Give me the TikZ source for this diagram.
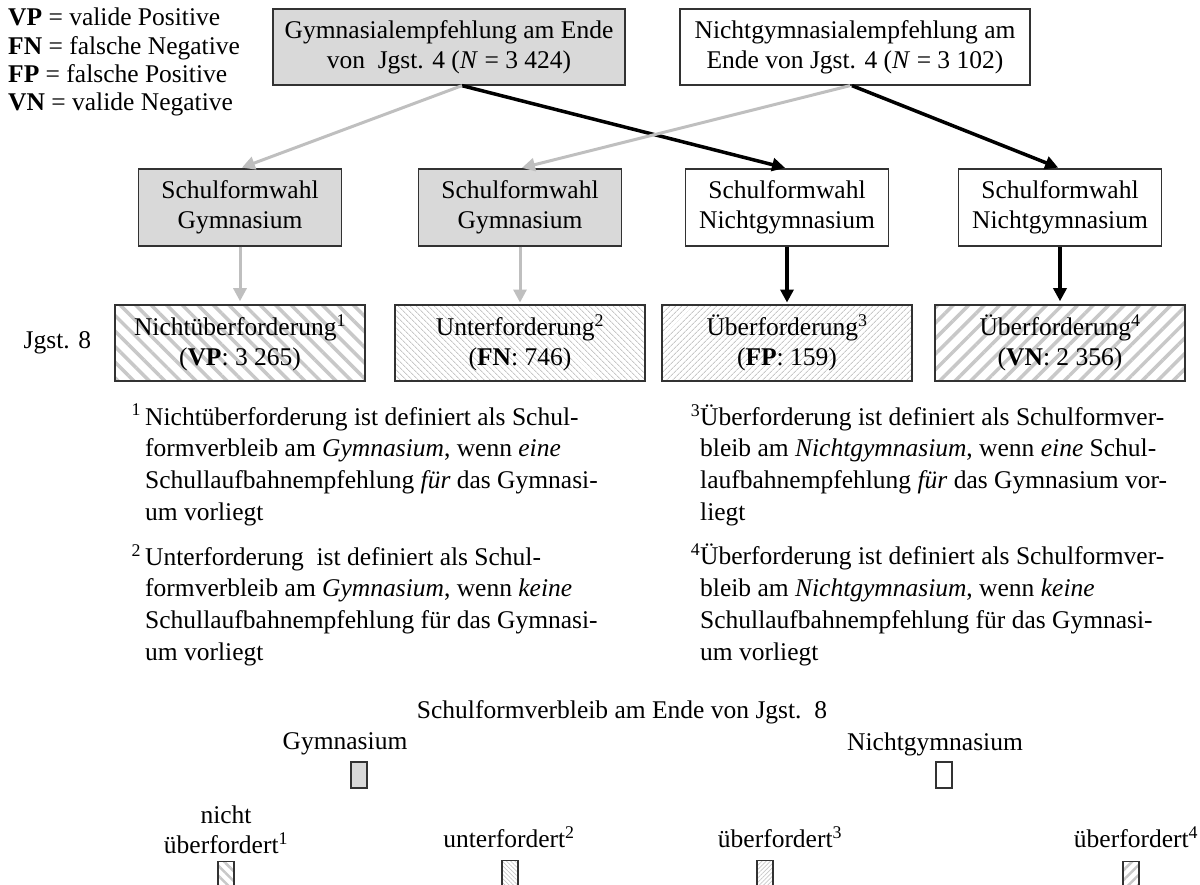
\documentclass[tikz,border=0pt]{standalone}
\usepackage{fontspec}
\setmainfont{Liberation Serif}
\usepackage{xcolor}
\usepackage{tikz}
\usetikzlibrary{positioning,arrows.meta,patterns.meta,calc}
\definecolor{boxgray}{RGB}{217,217,217}
\definecolor{arrowgray}{RGB}{191,191,191}
\definecolor{hatchgray}{RGB}{200,200,200}
\definecolor{framegray}{RGB}{50,50,50}
\tikzset{
  base box/.style={
    draw=framegray,
    line width=1.3pt,
    align=center,
    inner sep=0pt,
    font=\fontsize{25.5}{30}\selectfont
  },
  rec box/.style={base box, minimum height=76pt},
  choice box/.style={base box, minimum width=203pt, minimum height=77pt},
  result box/.style={base box, minimum width=250pt, minimum height=76pt},
  gym fill/.style={fill=boxgray},
  wide nw/.style={pattern={Lines[angle=-45,distance=11pt,line width=3.5pt]}, pattern color=hatchgray},
  fine nw/.style={pattern={Lines[angle=-45,distance=4pt,line width=0.9pt]}, pattern color=hatchgray},
  fine ne/.style={pattern={Lines[angle=45,distance=4pt,line width=0.9pt]}, pattern color=hatchgray},
  wide ne/.style={pattern={Lines[angle=45,distance=11pt,line width=3.5pt]}, pattern color=hatchgray},
  gray arrow/.style={
    draw=arrowgray,
    line width=3pt,
    -{Triangle[length=13pt,width=13pt]},
    shorten >=2pt
  },
  black arrow/.style={
    draw=black,
    line width=3.5pt,
    -{Triangle[length=13pt,width=13pt]},
    shorten >=2pt
  },
  plain text/.style={inner sep=0pt, font=\fontsize{25.5}{30}\selectfont},
  note text/.style={plain text, align=left, anchor=north west, font=\fontsize{25.5}{31.7}\selectfont},
  key box/.style={draw=framegray, line width=1.3pt, minimum width=16pt, minimum height=26pt, inner sep=0pt}
}

\begin{document}
\begin{tikzpicture}[x=1pt, y=-1pt]
  \useasboundingbox (0,0) rectangle (1200,885);
  \clip (0,0) rectangle (1200,885);

  % Legend of abbreviations
  \node[note text, font=\fontsize{25.5}{28.3}\selectfont] (abbrev) at (8,8)
    {\textbf{VP} = valide Positive\\\textbf{FN} = falsche Negative\\\textbf{FP} = falsche Positive\\\textbf{VN} = valide Negative};

  % Recommendation at end of Jgst. 4
  \node[rec box, gym fill, minimum width=352pt] (gymrec) at (449,47)
    {Gymnasialempfehlung am Ende\\von\ \ Jgst. 4 (\textit{N} = 3 424)};
  \node[rec box, minimum width=350pt] (nongymrec) at (855,47)
    {Nichtgymnasialempfehlung am\\Ende von Jgst. 4 (\textit{N} = 3 102)};

  % School choice
  \node[choice box, gym fill] (choiceA) at (240,207.5) {Schulformwahl\\Gymnasium};
  \node[choice box, gym fill] (choiceB) at (520,207.5) {Schulformwahl\\Gymnasium};
  \node[choice box] (choiceC) at (787,207.5) {Schulformwahl\\Nichtgymnasium};
  \node[choice box] (choiceD) at (1060,207.5) {Schulformwahl\\Nichtgymnasium};

  % Outcome in Jgst. 8
  \node[result box, wide nw] (resVP) at (240,343) {Nichtüberforderung\textsuperscript{1}\\(\textbf{VP}: 3 265)};
  \node[result box, fine nw] (resFN) at (520,343) {Unterforderung\textsuperscript{2}\\(\textbf{FN}: 746)};
  \node[result box, fine ne] (resFP) at (787,343) {Überforderung\textsuperscript{3}\\(\textbf{FP}: 159)};
  \node[result box, wide ne] (resVN) at (1060,343) {Überforderung\textsuperscript{4}\\(\textbf{VN}: 2 356)};
  \node[plain text, left=22pt of resVP] (grade) {Jgst. 8};

  % Arrows
  \draw[black arrow] ([xshift=13pt]gymrec.south) -- (choiceC.north);
  \draw[gray arrow] ([xshift=13pt]gymrec.south) -- (choiceA.north);
  \draw[gray arrow] ([xshift=-5pt]nongymrec.south) -- (choiceB.north);
  \draw[black arrow] ([xshift=-3pt]nongymrec.south) -- (choiceD.north);
  \draw[gray arrow] (choiceA.south) -- (choiceA.south |- resVP.north);
  \draw[gray arrow] (choiceB.south) -- (choiceB.south |- resFN.north);
  \draw[black arrow] (choiceC.south) -- (choiceC.south |- resFP.north);
  \draw[black arrow] (choiceD.south) -- (choiceD.south |- resVN.north);

  % Footnotes
  \node[note text] (note1) at (145,404)
    {\llap{\textsuperscript{1}\,}Nichtüberforderung ist definiert als Schul-\\formverbleib am \textit{Gymnasium}, wenn \textit{eine}\\Schullaufbahnempfehlung \textit{für} das Gymnasi-\\um vorliegt};
  \node[note text] (note2) at (145,544)
    {\llap{\textsuperscript{2}\,}Unterforderung\ \ ist definiert als Schul-\\formverbleib am \textit{Gymnasium}, wenn \textit{keine}\\Schullaufbahnempfehlung für das Gymnasi-\\um vorliegt};
  \node[note text] (note3) at (700,404)
    {\llap{\textsuperscript{3}}Überforderung ist definiert als Schulformver-\\bleib am \textit{Nichtgymnasium}, wenn \textit{eine} Schul-\\laufbahnempfehlung \textit{für} das Gymnasium vor-\\liegt};
  \node[note text] (note4) at (700,544)
    {\llap{\textsuperscript{4}}Überforderung ist definiert als Schulformver-\\bleib am \textit{Nichtgymnasium}, wenn \textit{keine}\\Schullaufbahnempfehlung für das Gymnasi-\\um vorliegt};

  % Key at the bottom
  \node[plain text] (keytitle) at (622,712) {Schulformverbleib am Ende von Jgst.\ \ 8};
  \node[plain text] (keygym) at (345,744) {Gymnasium};
  \node[plain text] (keynongym) at (935,744) {Nichtgymnasium};
  \node[key box, fill=boxgray] (boxgym) at (359,775) {};
  \node[key box] (boxnongym) at (944,775) {};
  \node[plain text, align=center] (keyVP) at (226,830) {nicht\\überfordert\textsuperscript{1}};
  \node[plain text] (keyFN) at (509,837) {unterfordert\textsuperscript{2}};
  \node[plain text] (keyFP) at (780,837) {überfordert\textsuperscript{3}};
  \node[plain text] (keyVN) at (1136,837) {überfordert\textsuperscript{4}};
  \node[key box, anchor=north, pattern={Lines[angle=-45,distance=7pt,line width=2.5pt]}, pattern color=hatchgray] (boxVP) at (226,860) {};
  \node[key box, anchor=north, pattern={Lines[angle=-45,distance=3pt,line width=0.7pt]}, pattern color=hatchgray] (boxFN) at (510,860) {};
  \node[key box, anchor=north, pattern={Lines[angle=45,distance=3pt,line width=0.7pt]}, pattern color=hatchgray] (boxFP) at (765,860) {};
  \node[key box, anchor=north, pattern={Lines[angle=45,distance=7pt,line width=2.5pt]}, pattern color=hatchgray] (boxVN) at (1131,860) {};
\end{tikzpicture}
\end{document}
